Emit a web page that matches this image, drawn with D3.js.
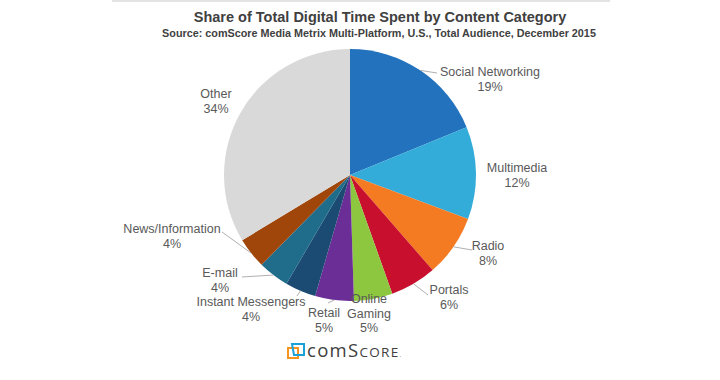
<!DOCTYPE html>
<html><head><meta charset="utf-8">
<script src="https://cdn.jsdelivr.net/npm/d3@7"></script>
<style>
html,body{margin:0;padding:0;background:#fff;}
svg text{font-family:"Liberation Sans",Arial,sans-serif;}
</style></head>
<body>
<svg id="chart" width="720" height="380"></svg>
<script>
// ---- data ----
const categories = ["Social Networking","Multimedia","Radio","Portals","Online Gaming","Retail","Instant Messengers","E-mail","News/Information","Other"];
const values = [19,12,8,6,5,5,4,4,4,34];
const valueLabels = ["19%","12%","8%","6%","5%","5%","4%","4%","4%","34%"];
const colors = ["#2372bd","#33acd9","#f47b21","#c8102e","#8dc63f","#6b2d96","#1b4a72","#1f6d8b","#a0460b","#d9d9d9"];
const titleText = "Share of Total Digital Time Spent by Content Category";
const subtitleText = "Source: comScore Media Metrix Multi-Platform, U.S., Total Audience, December 2015";

// ---- annotation layout (label anchors, leader ends) ----
const labelLayout = [
  {x:490,y:76,leader:[437,73]},
  {x:517,y:172},
  {x:488,y:250,leader:[472,250]},
  {x:449,y:294,leader:[428,295]},
  {x:369,y:303,lines:["Online","Gaming"]},
  {x:324,y:317,leader:[328,303]},
  {x:251,y:306,leader:[297,296]},
  {x:220,y:277,leader:[242,277]},
  {x:172,y:233,leader:[222,232]},
  {x:216,y:98}
];

const svg = d3.select("#chart");
svg.append("rect").attr("x",112).attr("y",0).attr("width",498).attr("height",2).attr("fill","#e3e3e3");

svg.append("text").attr("x",380).attr("y",22).attr("text-anchor","middle")
  .attr("font-size",14.5).attr("font-weight","bold").attr("fill","#404040").text(titleText);
svg.append("text").attr("x",379).attr("y",37).attr("text-anchor","middle")
  .attr("font-size",10.8).attr("font-weight","bold").attr("fill","#404040").text(subtitleText);

const cx = 350, cy = 175, r = 126;
const g = svg.append("g").attr("transform",`translate(${cx},${cy})`);
const pie = d3.pie().sort(null).value(d=>d.v);
const arcs = pie(categories.map((c,i)=>({c,v:values[i],i})));
const arc = d3.arc().innerRadius(0).outerRadius(r);

g.selectAll("path").data(arcs).join("path")
  .attr("d",arc).attr("fill",d=>colors[d.data.i]);

// leader lines
arcs.forEach((d,i)=>{
  const L = labelLayout[i];
  if(!L.leader) return;
  const a = (d.startAngle+d.endAngle)/2;
  const x0 = cx + r*Math.sin(a), y0 = cy - r*Math.cos(a);
  svg.append("line").attr("x1",x0).attr("y1",y0).attr("x2",L.leader[0]).attr("y2",L.leader[1])
    .attr("stroke","#b0b0b0").attr("stroke-width",1);
});

// labels
arcs.forEach((d,i)=>{
  const L = labelLayout[i];
  const lines = (L.lines || [categories[i]]).concat([valueLabels[i]]);
  const t = svg.append("text").attr("text-anchor","middle").attr("font-size",12.5).attr("fill","#595959");
  lines.forEach((s,k)=>{
    t.append("tspan").attr("x",L.x).attr("y",L.y + k*14.5).text(s);
  });
});

// comScore logo
const logo = svg.append("g");
logo.append("rect").attr("x",288).attr("y",348).attr("width",10).attr("height",10)
  .attr("fill","none").attr("stroke","#f7941d").attr("stroke-width",2);
logo.append("path").attr("d","M292,344 L304,344 L304,355 L294,355 Z")
  .attr("fill","none").attr("stroke","#1ba1d6").attr("stroke-width",2);
const lt = logo.append("text").attr("x",307).attr("y",357).attr("fill","#404040")
  .attr("font-size",18.5).attr("letter-spacing",1.3).style("font-family","'Open Sans','Liberation Sans',sans-serif");
lt.append("tspan").text("com");
lt.append("tspan").text("S");
lt.append("tspan").attr("font-size",13.5).text("CORE");
lt.append("tspan").attr("font-size",6).text(".");
</script>
</body></html>
